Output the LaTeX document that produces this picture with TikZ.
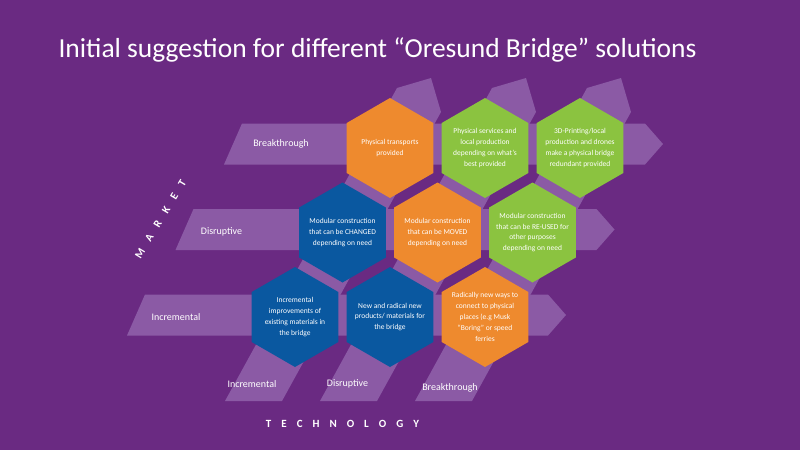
\documentclass[tikz,border=0pt]{standalone}
\usepackage{fontspec}
\setmainfont{Carlito}
\usetikzlibrary{shapes.geometric, positioning}

\definecolor{bgpurple}{RGB}{106,42,130}
\definecolor{bandpurple}{RGB}{139,90,165}
\definecolor{hexorange}{RGB}{238,138,46}
\definecolor{hexgreen}{RGB}{139,195,64}
\definecolor{hexblue}{RGB}{10,88,160}

\begin{document}
\begin{tikzpicture}[x=1pt, y=-1pt, node distance=95pt, on grid,
        band/.style={fill=bandpurple},
        hex/.style={regular polygon, regular polygon sides=6, shape border rotate=30,
            minimum size=100pt, inner sep=0pt},
        hextext/.style={text=white, align=center, inner sep=0pt,
            font=\fontsize{7.5}{10.8}\selectfont},
        axislabel/.style={text=white, font=\fontsize{10}{12}\selectfont},
        axistitle/.style={text=white, font=\fontsize{11}{13}\selectfont\bfseries,
            execute at begin node={\spaceskip=10pt\relax}}]

        \fill[bgpurple, use as bounding box] (0,0) rectangle (800,450);

        \node[anchor=base west, text=white, font=\fontsize{27.5}{32}\selectfont] (TITLE) at (55,57)
            {Initial suggestion for different “Oresund Bridge” solutions};

        % market rows
        \foreach \j in {0,1,2}
            \fill[band] ({224-48.5*\j},{164.5+85.5*\j}) -- ({242-48.5*\j},{123.5+85.5*\j})
                -- ({645-48.5*\j},{123.5+85.5*\j}) -- ({663-48.5*\j},{144+85.5*\j})
                -- ({645-48.5*\j},{164.5+85.5*\j}) -- cycle;

        % technology columns
        \foreach \i in {0,1,2}
            \fill[band] ({225+95*\i},401) -- ({397+95*\i},88) -- ({431+95*\i},78)
                -- ({441+95*\i},112) -- ({282+95*\i},401) -- cycle;

        \node[hex, fill=hexorange, label={[hextext]center:{Physical transports\\provided}}] (BR1) at (390,148) {};
        \node[hex, fill=hexgreen, right=of BR1, label={[hextext]center:{Physical services and\\local production\\depending on what’s\\best provided}}] (BR2) {};
        \node[hex, fill=hexgreen, right=of BR2, label={[hextext]center:{3D-Printing/local\\production and drones\\make a physical bridge\\redundant provided}}] (BR3) {};

        \node[hex, fill=hexblue, below left=84.5pt and 47.5pt of BR1, label={[hextext]center:{Modular construction\\that can be CHANGED\\depending on need}}] (DI1) {};
        \node[hex, fill=hexorange, right=of DI1, label={[hextext]center:{Modular construction\\that can be MOVED\\depending on need}}] (DI2) {};
        \node[hex, fill=hexgreen, right=of DI2, label={[hextext]center:{Modular construction\\that can be RE-USED for\\other purposes\\depending on need}}] (DI3) {};

        \node[hex, fill=hexblue, below left=84.5pt and 47.5pt of DI1, label={[hextext]center:{Incremental\\improvements of\\existing  materials in\\the bridge}}] (IN1) {};
        \node[hex, fill=hexblue, right=of IN1, label={[hextext]center:{New and radical new\\products/ materials for\\the bridge}}] (IN2) {};
        \node[hex, fill=hexorange, right=of IN2, label={[hextext]center:{Radically new ways to\\connect to physical\\places (e.g Musk\\“Boring” or speed\\ferries}}] (IN3) {};

        \node[axislabel] (MBR) at (281,144) {Breakthrough};
        \node[axislabel] (MDI) at (221.5,232) {Disruptive};
        \node[axislabel] (MIN) at (176,317) {Incremental};

        \node[axislabel] (TIN) at (252,384) {Incremental};
        \node[axislabel] (TDI) at (347.5,384) {Disruptive};
        \node[axislabel] (TBR) at (450,388) {Breakthrough};

        \node[axistitle] (TECH) at (342.5,424) {T E C H N O L O G Y};
        \node[axistitle, rotate=59] (MARKET) at (160.5,219) {M A R K E T};

\end{tikzpicture}
\end{document}
